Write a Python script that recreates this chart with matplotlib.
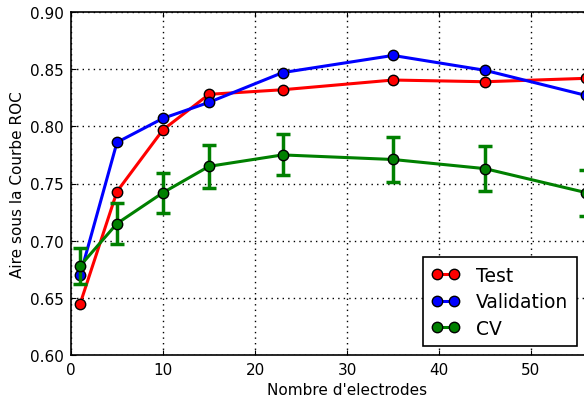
import numpy as np
import matplotlib
matplotlib.use("Agg")
import matplotlib.pyplot as plt

n_electrodes = [1, 5, 10, 15, 23, 35, 45, 56]
auc_test = [0.645, 0.743, 0.797, 0.828, 0.832, 0.8405, 0.839, 0.842]
auc_validation = [0.670, 0.786, 0.807, 0.821, 0.847, 0.862, 0.849, 0.827]
auc_cv = [0.678, 0.715, 0.742, 0.765, 0.775, 0.771, 0.763, 0.742]
auc_cv_std = [0.016, 0.018, 0.0175, 0.019, 0.018, 0.020, 0.0195, 0.020]

fig = plt.figure(figsize=(5.84, 4.02), dpi=100)
ax = fig.add_axes([71 / 584, 46 / 402, 552 / 584, 343 / 402])

style = dict(lw=2.2, marker="o", markersize=7.5, markeredgecolor="black", markeredgewidth=1)
ax.plot(n_electrodes, auc_test, color="red", label="Test", **style)
ax.plot(n_electrodes, auc_validation, color="blue", label="Validation", **style)
ax.errorbar(n_electrodes, auc_cv, yerr=auc_cv_std, fmt="none", ecolor="green",
            elinewidth=2.5, capsize=5, capthick=2.5)
ax.plot(n_electrodes, auc_cv, color="green", label="CV", **style)

ax.set_xlim(0, 60)
ax.set_ylim(0.60, 0.90)
ax.set_xticks([0, 10, 20, 30, 40, 50])
ax.set_yticks([0.60, 0.65, 0.70, 0.75, 0.80, 0.85, 0.90])
ax.tick_params(labelsize=11, direction="in", top=True, right=True, pad=5)
ax.set_xlabel("Nombre d'electrodes", fontsize=11)
ax.set_ylabel("Aire sous la Courbe ROC", fontsize=11)
ax.grid(True, color="black", linestyle=(0, (1, 3)), linewidth=1)
for s in ax.spines.values():
    s.set_linewidth(1.2)

leg = ax.legend(loc="lower right", bbox_to_anchor=(577 / 584, 55 / 402),
                bbox_transform=fig.transFigure, fontsize=13.5, fancybox=False,
                framealpha=1, edgecolor="black", borderaxespad=0, numpoints=2,
                handlelength=1.5, handletextpad=0.9, labelspacing=0.4,
                borderpad=0.45)
leg.get_frame().set_linewidth(1.2)

fig.savefig("out.png", dpi=100)
